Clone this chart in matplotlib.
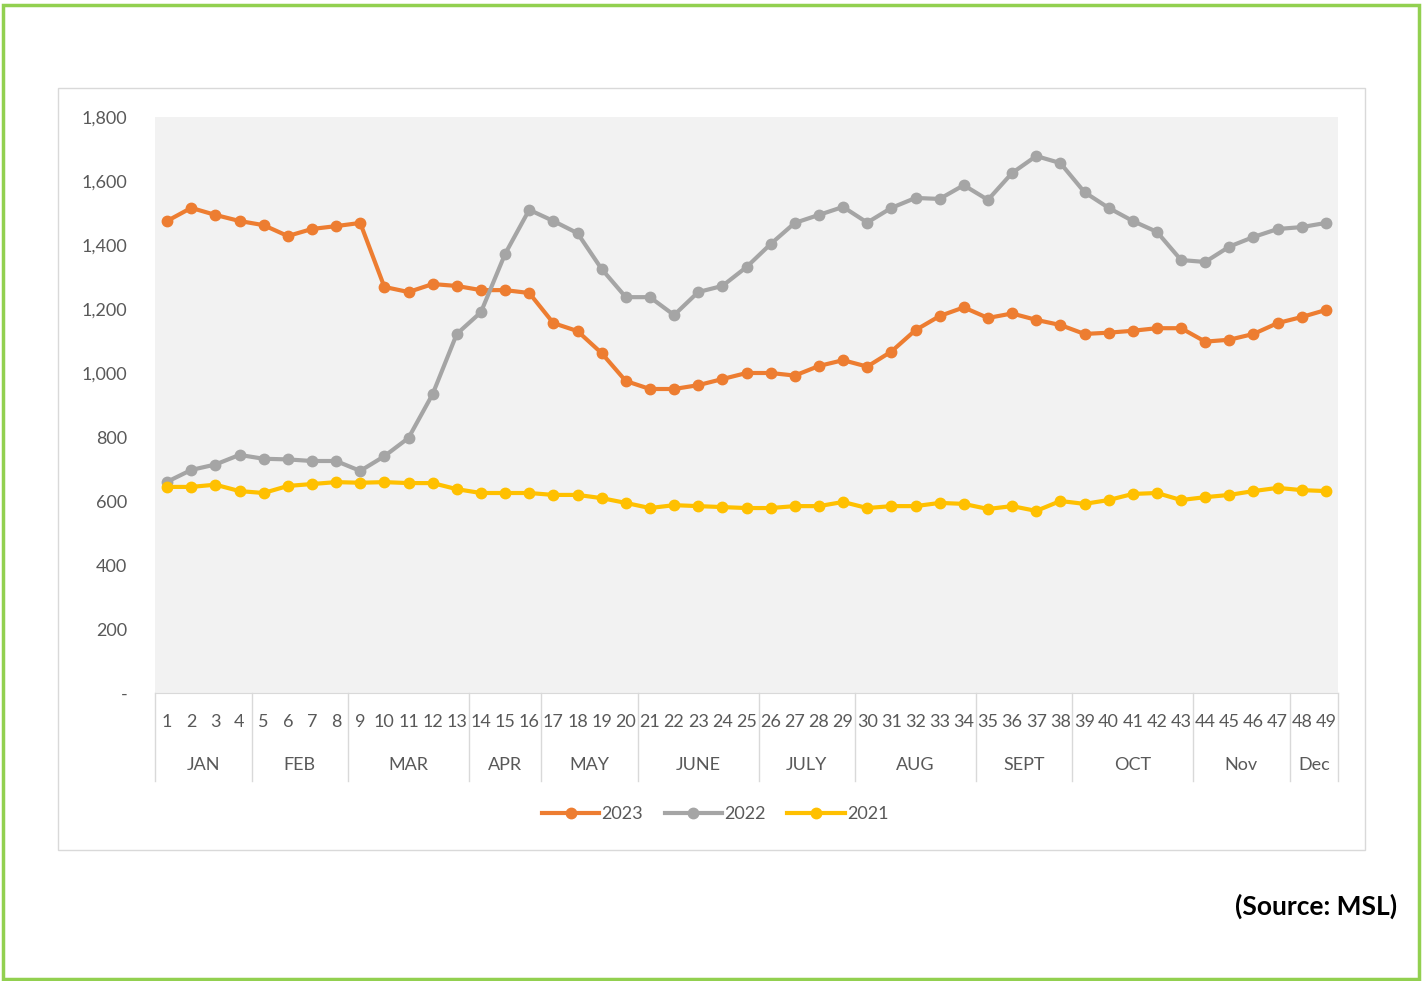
import matplotlib.pyplot as plt
from matplotlib.patches import Rectangle
from matplotlib.ticker import FuncFormatter

plt.rcParams['font.family'] = ['Lato', 'DejaVu Sans']

weeks = list(range(1, 50))
months = ['JAN', 'FEB', 'MAR', 'APR', 'MAY', 'JUNE', 'JULY', 'AUG', 'SEPT', 'OCT', 'Nov', 'Dec']
month_weeks = [(1, 4), (5, 8), (9, 13), (14, 16), (17, 20), (21, 25), (26, 29),
               (30, 34), (35, 38), (39, 43), (44, 47), (48, 49)]

y2023 = [1475, 1516, 1494, 1475, 1462, 1428, 1450, 1459, 1469, 1269,
         1253, 1278, 1272, 1259, 1259, 1250, 1156, 1131, 1062, 975,
         950, 950, 962, 981, 1000, 1000, 992, 1022, 1040, 1020,
         1067, 1134, 1178, 1205, 1172, 1186, 1166, 1150, 1122, 1126,
         1132, 1140, 1140, 1098, 1104, 1122, 1156, 1175, 1197]
y2022 = [660, 697, 714, 744, 732, 730, 725, 725, 694, 740,
         797, 934, 1122, 1190, 1372, 1510, 1475, 1437, 1325, 1237,
         1237, 1181, 1253, 1272, 1331, 1403, 1469, 1494, 1519, 1470,
         1516, 1547, 1544, 1587, 1541, 1625, 1678, 1656, 1565, 1516,
         1475, 1441, 1353, 1347, 1395, 1425, 1450, 1456, 1469]
y2021 = [644, 644, 651, 631, 625, 647, 653, 659, 657, 659,
         656, 656, 637, 625, 625, 625, 619, 619, 609, 594,
         578, 587, 584, 581, 578, 578, 584, 584, 597, 578,
         584, 584, 594, 591, 575, 584, 569, 600, 591, 603,
         622, 625, 603, 612, 619, 631, 641, 634, 631]

W, H = 1424, 981
fig = plt.figure(figsize=(W / 100, H / 100), dpi=100)

def fx(px):
    return px / W

def fy(py):
    return 1 - py / H

# outer green frame and inner chart box
fig.patches.append(Rectangle((fx(3), fy(979)), fx(1416), fy(5) - fy(979),
                             transform=fig.transFigure, fill=False, ec='#92D050', lw=2.5))
fig.patches.append(Rectangle((fx(58), fy(850)), fx(1307), fy(88) - fy(850),
                             transform=fig.transFigure, fill=False, ec='#D9D9D9', lw=1))

ax = fig.add_axes([fx(155), fy(693), fx(1338) - fx(155), fy(117) - fy(693)])
ax.set_facecolor('#F2F2F2')

series = [('2023', y2023, '#ED7D31'), ('2022', y2022, '#A5A5A5'), ('2021', y2021, '#FFC000')]
for name, vals, col in series:
    ax.plot(weeks, vals, '-o', color=col, lw=3, ms=7.5, label=name)

ax.set_xlim(0.5, 49.5)
ax.set_ylim(0, 1800)
ax.set_yticks(range(0, 1801, 200))
ax.yaxis.set_major_formatter(FuncFormatter(lambda v, p: '-' if v == 0 else f'{int(v):,}'))
ax.tick_params(axis='y', length=0, pad=20, labelsize=13, labelcolor='#595959')
ax.set_xticks([])
for s in ['top', 'right', 'left']:
    ax.spines[s].set_visible(False)
ax.spines['bottom'].set_color('#D9D9D9')

# category axis: week numbers, month groups, separators
trans = ax.get_xaxis_transform()
ax_h = fy(117) - fy(693)
def ay(py):
    return (fy(py) - fy(693)) / ax_h

for w in weeks:
    ax.text(w, ay(722), str(w), transform=trans, ha='center', va='center',
            fontsize=13, color='#595959', clip_on=False)
bounds = [0.5] + [b + 0.5 for a, b in month_weeks]
for b in bounds:
    ax.plot([b, b], [0, ay(781)], transform=trans, color='#D9D9D9', lw=1, clip_on=False)
for m, (a, b) in zip(months, month_weeks):
    ax.text((a + b) / 2, ay(765), m, transform=trans, ha='center', va='center',
            fontsize=13, color='#595959', clip_on=False)

leg = fig.legend(loc='center', bbox_to_anchor=(fx(715), fy(814)), ncol=3, frameon=False,
                 fontsize=13, handlelength=3.2, handletextpad=0.1, columnspacing=1.2)
for t in leg.get_texts():
    t.set_color('#595959')

fig.text(fx(1397), fy(906), '(Source: MSL)', ha='right', va='center',
         fontsize=19, fontweight='bold', color='black')

fig.savefig('out.png', dpi=100)
